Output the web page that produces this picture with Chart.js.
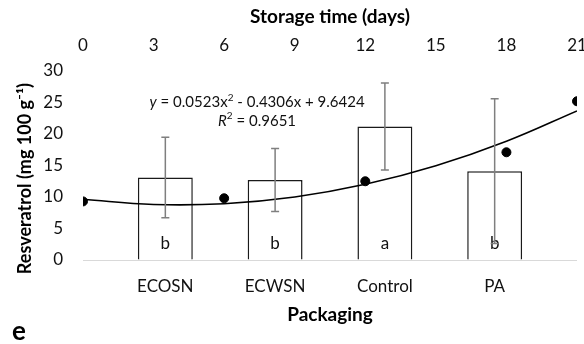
<!DOCTYPE html>
<html>
<head>
<meta charset="utf-8">
<script src="https://cdn.jsdelivr.net/npm/chart.js@4.4.1/dist/chart.umd.min.js"></script>
<style>
  html, body { margin: 0; padding: 0; background: #fff; }
  #wrap { width: 584px; height: 344px; }
</style>
</head>
<body>
<div id="wrap"><canvas id="resChart" width="584" height="344"></canvas></div>
<script>
// packaging bars (bottom axis)
const packaging = ['ECOSN', 'ECWSN', 'Control', 'PA'];
const resveratrol = [13.1, 12.7, 21.2, 14.1];
const resveratrolErr = [6.4, 5.0, 6.9, 11.5];
const letters = ['b', 'b', 'a', 'b'];

// storage time points (top axis)
const days = [0, 6, 12, 18, 21];
const dayValues = [9.3, 9.8, 12.5, 17.1, 25.2];

// trendline
const trendDays = [0, 3, 6, 9, 12, 15, 18, 21];
const trendValues = [9.64, 8.82, 8.94, 10.0, 12.01, 14.95, 18.84, 23.66];

const dayTicks = [0, 3, 6, 9, 12, 15, 18, 21];
const yTicks = [0, 5, 10, 15, 20, 25, 30];

const FONT = 'Lato';

// error bars + letters inside the bars
const errorBars = {
    id: 'errorBars',
    afterDatasetsDraw(chart) {
        const ctx = chart.ctx;
        const yScale = chart.scales.y;
        const meta = chart.getDatasetMeta(0);
        ctx.save();
        // letters first, error bars go over them
        ctx.fillStyle = '#111';
        ctx.font = '17px ' + FONT;
        ctx.textAlign = 'center';
        ctx.textBaseline = 'alphabetic';
        meta.data.forEach((bar, i) => {
            ctx.fillText(letters[i], bar.x, yScale.getPixelForValue(0) - 11);
        });
        ctx.strokeStyle = '#7f7f7f';
        ctx.lineWidth = 1.5;
        meta.data.forEach((bar, i) => {
            let top = yScale.getPixelForValue(resveratrol[i] + resveratrolErr[i]);
            let bot = yScale.getPixelForValue(resveratrol[i] - resveratrolErr[i]);
            ctx.beginPath();
            ctx.moveTo(bar.x, top);
            ctx.lineTo(bar.x, bot);
            ctx.moveTo(bar.x - 4, top);
            ctx.lineTo(bar.x + 4, top);
            ctx.moveTo(bar.x - 4, bot);
            ctx.lineTo(bar.x + 4, bot);
            ctx.stroke();
        });
        ctx.restore();
    }
};

// trendline equation label
const equation = {
    id: 'equation',
    afterDraw(chart) {
        const ctx = chart.ctx;
        const cx = chart.scales.x2.getPixelForValue(7.4);
        const y1 = chart.scales.y.getPixelForValue(25.0);
        const y2 = chart.scales.y.getPixelForValue(22.1);
        const drawParts = (parts, y) => {
            let total = 0;
            parts.forEach(p => { ctx.font = p.font; p.w = ctx.measureText(p.t).width; total += p.w; });
            let x = cx - total / 2;
            parts.forEach(p => {
                ctx.font = p.font;
                ctx.fillText(p.t, x, y + (p.dy || 0));
                x += p.w;
            });
        };
        ctx.save();
        ctx.fillStyle = '#111';
        ctx.textAlign = 'left';
        ctx.textBaseline = 'middle';
        const n = '15px ' + FONT, it = 'italic 15px ' + FONT, sup = '10px ' + FONT;
        drawParts([
            {t: 'y', font: it},
            {t: ' = 0.0523x', font: n},
            {t: '2', font: sup, dy: -4.5},
            {t: ' - 0.4306x + 9.6424', font: n}
        ], y1);
        drawParts([
            {t: 'R', font: it},
            {t: '2', font: sup, dy: -4.5},
            {t: ' = 0.9651', font: n}
        ], y2);
        ctx.restore();
    }
};

var ctx = document.getElementById('resChart').getContext('2d');
new Chart(ctx, {
    type: 'bar',
    data: {
        datasets: [{
            type: 'bar',
            label: 'Packaging',
            data: packaging.map((p, i) => ({x: i, y: resveratrol[i]})),
            backgroundColor: '#ffffff',
            borderColor: '#1a1a1a',
            borderWidth: 1.5,
            grouped: false,
            barPercentage: 0.5,
            categoryPercentage: 1,
            xAxisID: 'x',
            yAxisID: 'y',
            order: 3
        }, {
            type: 'line',
            label: 'Trend',
            data: trendDays.map((d, i) => ({x: d, y: trendValues[i]})),
            borderColor: '#000',
            borderWidth: 1.6,
            pointRadius: 0,
            tension: 0.4,
            fill: false,
            xAxisID: 'x2',
            yAxisID: 'y',
            order: 2
        }, {
            type: 'scatter',
            label: 'Storage',
            data: days.map((d, i) => ({x: d, y: dayValues[i]})),
            backgroundColor: '#000',
            borderColor: '#000',
            pointRadius: 4.5,
            showLine: false,
            xAxisID: 'x2',
            yAxisID: 'y',
            order: 1
        }]
    },
    options: {
        responsive: false,
        animation: false,
        layout: { padding: { left: 12, right: 7, top: 0, bottom: 0 } },
        plugins: {
            legend: { display: false },
            tooltip: { enabled: false },
            title: {
                display: true,
                text: 'e',
                position: 'bottom',
                align: 'start',
                color: '#000',
                font: { family: FONT, size: 26, weight: 'bold', lineHeight: 0.5 },
                padding: { top: 0, bottom: 5.5 }
            }
        },
        scales: {
            x: {
                type: 'linear',
                position: 'bottom',
                min: -0.75,
                max: 3.75,
                offset: false,
                afterBuildTicks: (scale) => { scale.ticks = packaging.map((p, i) => ({value: i})); },
                afterFit: (scale) => { scale.height = 65.5; },
                ticks: {
                    callback: (v) => packaging[v],
                    color: '#111',
                    padding: 16,
                    maxRotation: 0,
                    font: { family: FONT, size: 17 }
                },
                grid: { display: false, drawTicks: false },
                border: { display: false },
                title: {
                    display: true,
                    text: 'Packaging',
                    color: '#000',
                    font: { family: FONT, size: 19, weight: 'bold', lineHeight: 1 },
                    padding: { top: 0, bottom: 1 }
                }
            },
            x2: {
                type: 'linear',
                position: 'top',
                min: 0,
                max: 21,
                offset: false,
                afterBuildTicks: (scale) => { scale.ticks = dayTicks.map(v => ({value: v})); },
                afterFit: (scale) => { scale.height = 71; scale.paddingLeft = 0; scale.paddingRight = 0; },
                ticks: {
                    color: '#111',
                    padding: 15,
                    maxRotation: 0,
                    font: { family: FONT, size: 17 }
                },
                grid: { display: false, drawTicks: false },
                border: { display: false },
                title: {
                    display: true,
                    text: 'Storage time (days)',
                    color: '#000',
                    font: { family: FONT, size: 19, weight: 'bold' },
                    padding: { top: 5.5, bottom: 0 }
                }
            },
            y: {
                min: 0,
                max: 30,
                afterBuildTicks: (scale) => { scale.ticks = yTicks.map(v => ({value: v})); },
                afterFit: (scale) => { scale.width = 71; },
                ticks: {
                    color: '#111',
                    padding: 20,
                    font: { family: FONT, size: 17 }
                },
                grid: {
                    drawTicks: false,
                    color: (c) => c.tick && c.tick.value === 0 ? '#d9d9d9' : 'rgba(0,0,0,0)',
                    lineWidth: 1
                },
                border: { display: false },
                title: {
                    display: true,
                    // trailing spaces push the label a bit down, like the original
                    text: 'Resveratrol (mg 100 g⁻¹)\u00a0\u00a0\u00a0\u00a0\u00a0\u00a0',
                    color: '#000',
                    font: { family: FONT, size: 18, weight: 'bold' },
                    padding: { top: 2, bottom: 0 }
                }
            }
        }
    },
    plugins: [errorBars, equation]
});
</script>
</body>
</html>
